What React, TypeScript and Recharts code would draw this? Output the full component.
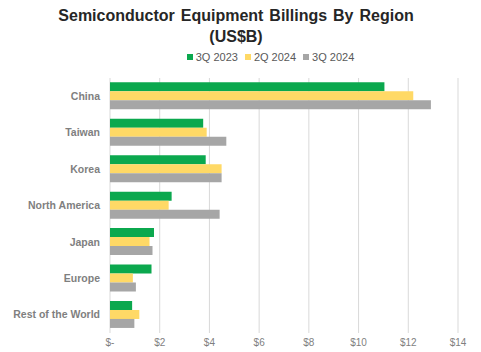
import React from 'react';
import { Bar, BarChart, CartesianGrid, XAxis, YAxis } from 'recharts';

const regions = ['China', 'Taiwan', 'Korea', 'North America', 'Japan', 'Europe', 'Rest of the World'];
const q3_2023 = [11.04, 3.75, 3.85, 2.48, 1.77, 1.67, 0.89];
const q2_2024 = [12.2, 3.89, 4.49, 2.36, 1.59, 0.92, 1.18];
const q3_2024 = [12.91, 4.68, 4.49, 4.41, 1.71, 1.04, 0.98];
const xTicks = [0, 2, 4, 6, 8, 10, 12, 14];

const series = [
    { key: 'q3_2023', name: '3Q 2023', color: '#0BA84E' },
    { key: 'q2_2024', name: '2Q 2024', color: '#FFD966' },
    { key: 'q3_2024', name: '3Q 2024', color: '#A6A6A6' },
];

const data = regions.map((region, i) => ({
    region,
    q3_2023: q3_2023[i],
    q2_2024: q2_2024[i],
    q3_2024: q3_2024[i],
}));

const fontFamily = 'Arial, "Liberation Sans", sans-serif';

// plain tick so long names don't wrap
const RegionTick = (props: any) => {
    const { x, y, payload } = props;
    return (
        <text x={x} y={y} dy="0.35em" textAnchor="end" fill="#7F7F7F" fontSize={10.5} fontWeight="bold" fontFamily={fontFamily}>
            {payload.value}
        </text>
    );
};

const App: React.FC = () => {
    return (
        <div style={{ position: 'absolute', left: 0, top: 0, width: 481, height: 352, background: '#fff', fontFamily }}>
            <div style={{ position: 'absolute', left: 0, width: 472, top: 5, textAlign: 'center', fontWeight: 'bold', fontSize: 16, lineHeight: '21px', color: '#262626', wordSpacing: 1.5 }}>
                Semiconductor Equipment Billings By Region
                <br />
                (US$B)
            </div>
            <div style={{ position: 'absolute', left: 0, width: 548, top: 51, display: 'flex', justifyContent: 'center', fontSize: 11, color: '#595959' }}>
                {series.map((s) => (
                    <span key={s.key} style={{ display: 'flex', alignItems: 'center', marginRight: 7 }}>
                        <span style={{ width: 6, height: 6, background: s.color, marginRight: 3, display: 'inline-block' }} />
                        {s.name}
                    </span>
                ))}
            </div>
            <div style={{ position: 'absolute', left: 0, top: 0 }}>
                <BarChart
                    width={481}
                    height={352}
                    data={data}
                    layout="vertical"
                    margin={{ top: 78, right: 23, bottom: 0, left: 0 }}
                    barCategoryGap="12%"
                    barGap={0}
                >
                    <CartesianGrid horizontal={false} stroke="#D9D9D9" />
                    <XAxis
                        type="number"
                        domain={[0, 14]}
                        ticks={xTicks}
                        tickFormatter={(v: number) => (v === 0 ? '$-' : `$${v}`)}
                        axisLine={false}
                        tickLine={false}
                        tickSize={0}
                        tickMargin={6}
                        height={19}
                        tick={{ fill: '#7F7F7F', fontSize: 10, fontFamily }}
                    />
                    <YAxis
                        type="category"
                        dataKey="region"
                        width={110}
                        axisLine={false}
                        tickLine={false}
                        tickSize={0}
                        tickMargin={10}
                        tick={RegionTick}
                    />
                    {series.map((s) => (
                        <Bar key={s.key} dataKey={s.key} name={s.name} fill={s.color} isAnimationActive={false} />
                    ))}
                </BarChart>
            </div>
        </div>
    );
};

export default App;
